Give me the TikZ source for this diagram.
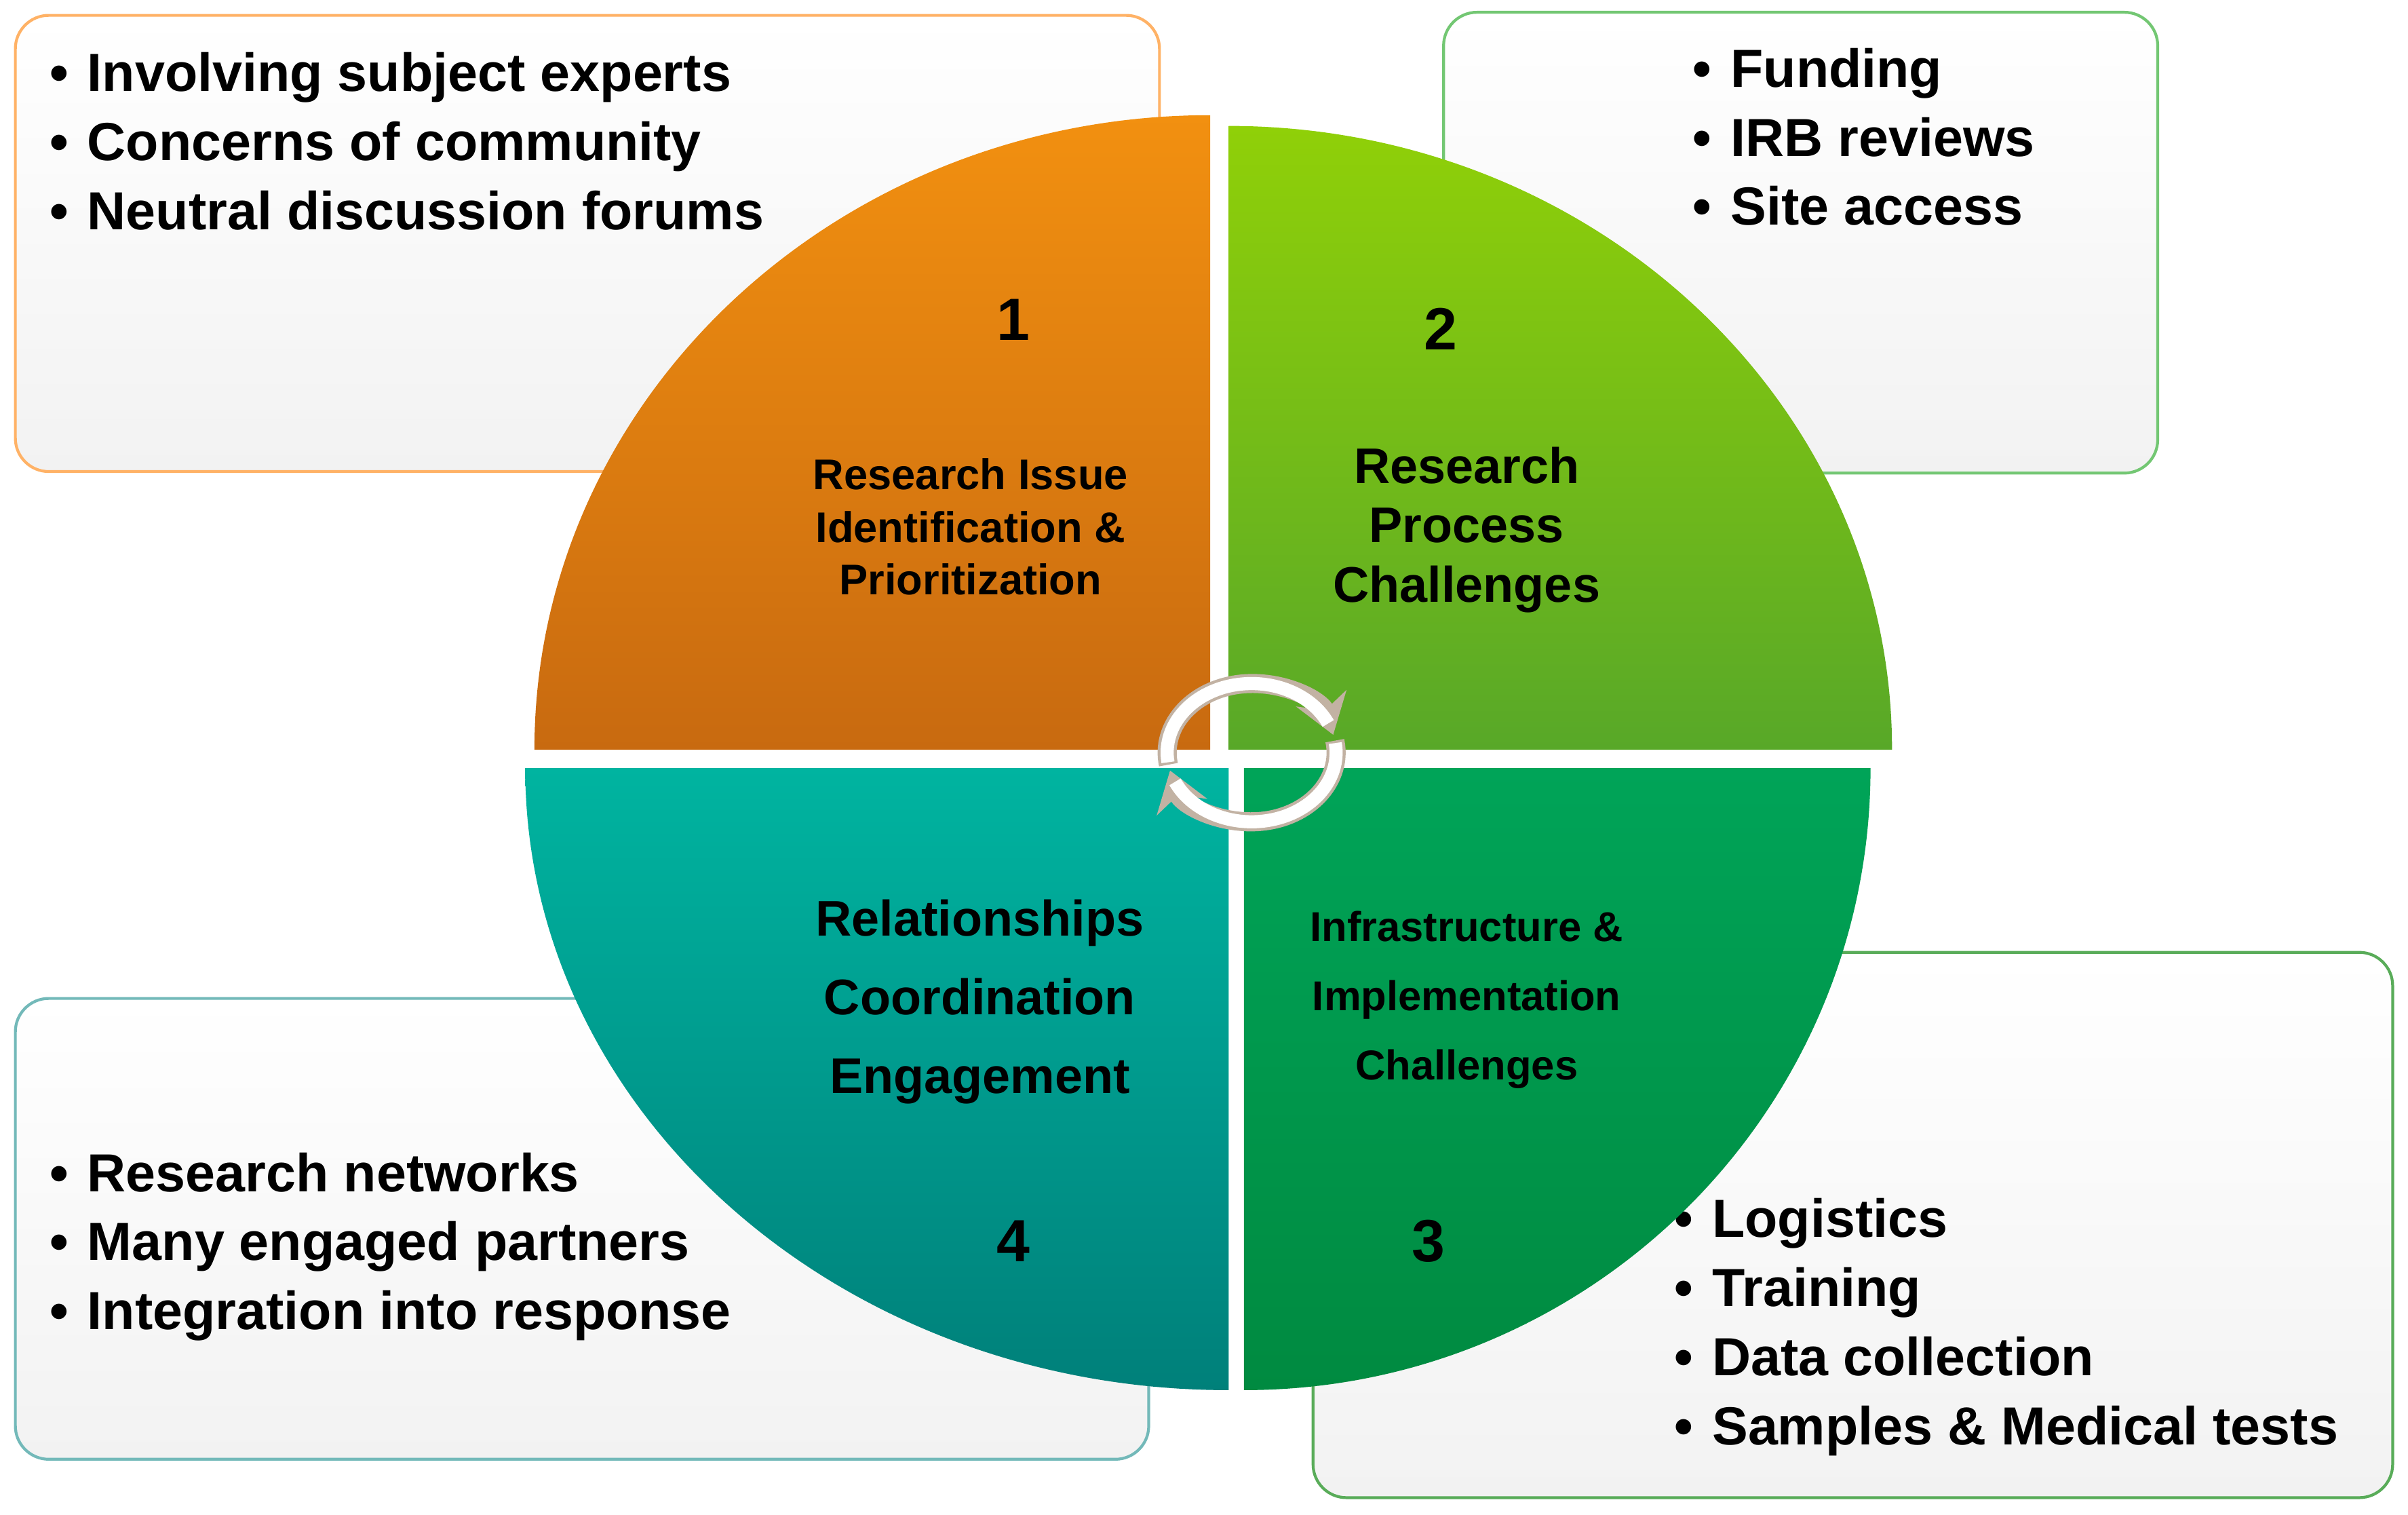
\documentclass[tikz,border=0pt]{standalone}
\usepackage{fontspec}
\setmainfont{Liberation Sans}
\usetikzlibrary{arrows.meta}
\definecolor{boxfill}{HTML}{F2F2F2}
\definecolor{qorangetop}{HTML}{F29010}
\definecolor{qorangebot}{HTML}{C86A10}
\definecolor{qlimetop}{HTML}{90D008}
\definecolor{qlimebot}{HTML}{58A828}
\definecolor{qtealtop}{HTML}{00B4A0}
\definecolor{qtealbot}{HTML}{00807A}
\definecolor{qgreentop}{HTML}{00A458}
\definecolor{qgreenbot}{HTML}{008A40}
\begin{document}
\begin{tikzpicture}[x=0.02264cm,y=0.02264cm,
    infobox/.style={line width=1.2pt, rounded corners=14pt, top color=white, bottom color=boxfill},
    bullets/.style={anchor=north west, align=left, font=\bfseries\fontsize{22.5}{29}\selectfont, inner sep=0pt},
    qlabel/.style 2 args={align=center, font=\bfseries\fontsize{#1}{#2}\selectfont},
    qnum/.style={font=\bfseries\fontsize{25}{30}\selectfont}]

\useasboundingbox (0,0) rectangle (1568,986);

% boxes
\path[infobox, draw=orange!60] (10,679) rectangle (755,976);
\path[infobox, draw=green!60!black!55] (940,678) rectangle (1405,978);
\path[infobox, draw=teal!55] (10,36) rectangle (748,336);
\path[infobox, draw=green!50!black!65] (855,11) rectangle (1558,366);

% lists
\node[bullets] (listA) at (32,952) {\textbullet\hspace{8pt}Involving subject experts\\ \textbullet\hspace{8pt}Concerns of community\\ \textbullet\hspace{8pt}Neutral discussion forums};
\node[bullets] (listB) at (1102,955) {\textbullet\hspace{8pt}Funding\\ \textbullet\hspace{8pt}IRB reviews\\ \textbullet\hspace{8pt}Site access};
\node[bullets] (listD) at (32,236) {\textbullet\hspace{8pt}Research networks\\ \textbullet\hspace{8pt}Many engaged partners\\ \textbullet\hspace{8pt}Integration into response};
\node[bullets] (listC) at (1090,206) {\textbullet\hspace{8pt}Logistics\\ \textbullet\hspace{8pt}Training\\ \textbullet\hspace{8pt}Data collection\\ \textbullet\hspace{8pt}Samples \& Medical tests};

% quadrants
\shade[top color=qorangetop, bottom color=qorangebot] (788,498) -- (348,498) arc[start angle=180, end angle=90, x radius=440, y radius=413] -- cycle;
\shade[top color=qlimetop, bottom color=qlimebot] (800,498) -- (800,904) arc[start angle=90, end angle=0, x radius=432, y radius=406] -- cycle;
\shade[top color=qtealtop, bottom color=qtealbot] (800,486) -- (342,486) arc[start angle=180, end angle=270, x radius=458, y radius=405] -- cycle;
\shade[top color=qgreentop, bottom color=qgreenbot] (810,486) -- (1218,486) arc[start angle=0, end angle=-90, x radius=408, y radius=405] -- cycle;

% labels
\node[qnum] (n1) at (660,778) {1};
\node[qnum] (n2) at (938,772) {2};
\node[qnum] (n3) at (930,178) {3};
\node[qnum] (n4) at (660,178) {4};
\node[qlabel={18}{22}] (q1) at (632,643) {Research Issue\\Identification \&\\Prioritization};
\node[qlabel={21}{25}] (q2) at (955,641) {Research\\Process\\Challenges};
\node[qlabel={21}{33}] (q4) at (638,334) {Relationships\\Coordination\\Engagement};
\node[qlabel={17.5}{29}] (q3) at (955,335) {Infrastructure \&\\Implementation\\Challenges};

% cycle arrows
\coordinate (hub) at (815,496);
\draw[line width=8pt, brown!40!gray!60, -{Stealth[length=16pt,width=22pt]}] ([shift={(190:55 and 45)}]hub) arc[start angle=190, end angle=15, x radius=55, y radius=45];
\draw[line width=5.5pt, white] ([shift={(188:55 and 45)}]hub) arc[start angle=188, end angle=25, x radius=55, y radius=45];
\draw[line width=8pt, brown!40!gray!60, -{Stealth[length=16pt,width=22pt]}] ([shift={(10:55 and 45)}]hub) arc[start angle=10, end angle=-165, x radius=55, y radius=45];
\draw[line width=5.5pt, white] ([shift={(8:55 and 45)}]hub) arc[start angle=8, end angle=-155, x radius=55, y radius=45];
\end{tikzpicture}
\end{document}
